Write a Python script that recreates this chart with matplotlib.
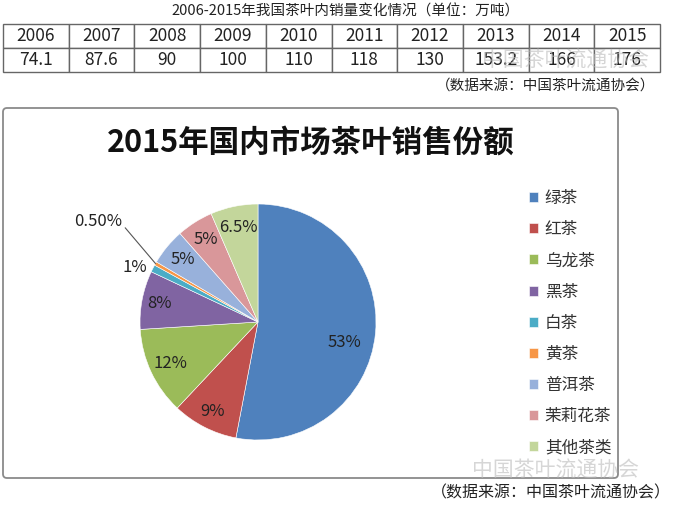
import numpy as np
import matplotlib
matplotlib.use("Agg")
import matplotlib.pyplot as plt
from matplotlib.patches import FancyBboxPatch

plt.rcParams["font.family"] = ["Noto Sans CJK SC", "DejaVu Sans"]

# table data
years = ["2006", "2007", "2008", "2009", "2010", "2011", "2012", "2013", "2014", "2015"]
sales = ["74.1", "87.6", "90", "100", "110", "118", "130", "153.2", "166", "176"]

# pie data
tea_types = ["绿茶", "红茶", "乌龙茶", "黑茶", "白茶", "黄茶", "普洱茶", "茉莉花茶", "其他茶类"]
shares = [53, 9, 12, 8, 1, 0.5, 5, 5, 6.5]
share_labels = ["53%", "9%", "12%", "8%", "1%", "0.50%", "5%", "5%", "6.5%"]
colors = ["#4F81BD", "#C0504D", "#9BBB59", "#8064A2", "#4BACC6",
          "#F79646", "#98B1DB", "#D9979A", "#C3D69B"]

W, H = 688, 513
fig = plt.figure(figsize=(W / 100, H / 100), dpi=100)
bg = fig.add_axes([0, 0, 1, 1])
bg.set_xlim(0, W)
bg.set_ylim(H, 0)
bg.axis("off")

# top table
bg.text(345, 12, "2006-2015年我国茶叶内销量变化情况（单位：万吨）",
        ha="center", va="center", fontsize=10.5, color="#222222")
tbl = bg.table(cellText=[years, sales], cellLoc="center",
               bbox=[3 / W, 1 - 72 / H, 657 / W, 48 / H])
tbl.auto_set_font_size(False)
for (r, c), cell in tbl.get_celld().items():
    cell.set_edgecolor("#666666")
    cell.set_linewidth(1.0)
    cell.get_text().set_fontsize(12.5)
    cell.get_text().set_color("#222222")
bg.text(546, 86, "（数据来源：中国茶叶流通协会）", ha="center", va="center",
        fontsize=10.5, color="#222222")

# chart frame
box = FancyBboxPatch((3, 108), 615, 370, boxstyle="round,pad=0,rounding_size=4",
                     facecolor="white", edgecolor="#8a8a8a", linewidth=1.3)
bg.add_patch(box)
bg.text(311, 143, "2015年国内市场茶叶销售份额", ha="center", va="center",
        fontsize=22, fontweight="bold", color="#111111")

# pie
cx, cy, r = 258, 322, 118
ax = fig.add_axes([(cx - r) / W, 1 - (cy + r) / H, 2 * r / W, 2 * r / H])
wedges, _ = ax.pie(shares, colors=colors, startangle=90, counterclock=False,
                   wedgeprops=dict(edgecolor="white", linewidth=0.4))
ax.set_xlim(-1, 1)
ax.set_ylim(-1, 1)
ax.axis("off")

dist = [0.75, 0.85, 0.82, 0.85, 1.14, 1.6, 0.83, 0.83, 0.82]
nudge = [-8, 0, 0, 0, 3, -2.6, 0, 0, 0]
for w, lab, d, n in zip(wedges, share_labels, dist, nudge):
    mid = np.deg2rad((w.theta1 + w.theta2) / 2 + n)
    x, y = d * np.cos(mid), d * np.sin(mid)
    if lab == "0.50%":
        m0 = np.deg2rad((w.theta1 + w.theta2) / 2)
        ax.annotate(lab, xy=(np.cos(m0), np.sin(m0)), xytext=(x, y),
                    ha="center", va="center", fontsize=12, color="#222222",
                    annotation_clip=False,
                    arrowprops=dict(arrowstyle="-", color="#555555", lw=0.8,
                                    shrinkA=0, shrinkB=0, relpos=(1, 0.3)))
    else:
        ax.text(x, y, lab, ha="center", va="center", fontsize=12, color="#222222")

fig.legend(wedges, tea_types, loc="upper left",
           bbox_to_anchor=(514 / W, 1 - 175 / H), frameon=False,
           fontsize=12, handlelength=0.55, handleheight=0.55, handletextpad=0.4,
           labelspacing=0.85, labelcolor="#333333")

# watermarks and bottom source
bg.text(565, 61, "中国茶叶流通协会", ha="center", va="center", fontsize=15,
        color="#bbbbbb", alpha=0.6)
bg.text(555, 471, "中国茶叶流通协会", ha="center", va="center", fontsize=15,
        color="#bbbbbb", alpha=0.6)
bg.text(551, 493, "（数据来源：中国茶叶流通协会）", ha="center", va="center",
        fontsize=11.5, color="#222222")

fig.savefig("out.png", dpi=100)
